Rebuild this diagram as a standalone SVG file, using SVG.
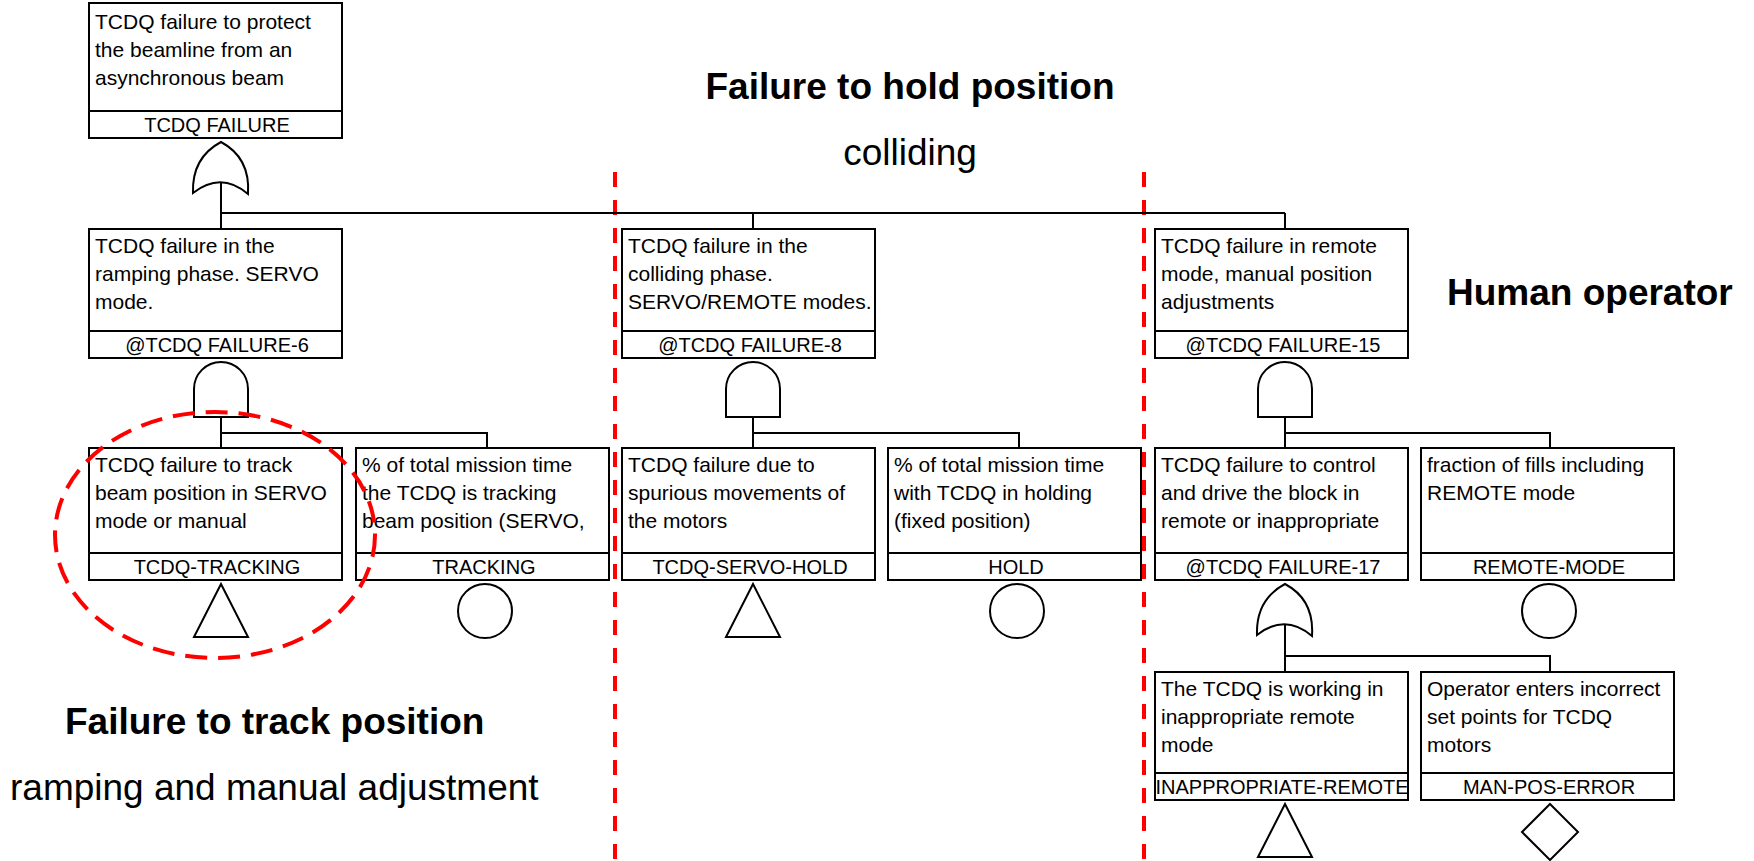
<svg xmlns="http://www.w3.org/2000/svg" width="1754" height="861" viewBox="0 0 1754 861">
<style>
text { font-family: "Liberation Sans", Arial, sans-serif; fill: #000; }
.box { fill: #fff; stroke: #000; stroke-width: 2; }
.div { stroke: #000; stroke-width: 2; }
.desc { font-size: 21px; }
.hdr { font-size: 20px; text-anchor: middle; }
.big { font-size: 37px; }
.b { font-weight: bold; }
.wire { stroke: #000; stroke-width: 2; fill: none; }
.gate { fill: #fff; stroke: #000; stroke-width: 2; }
.red { stroke: #ff0000; stroke-width: 4; fill: none; stroke-dasharray: 15 13; }
.redell { stroke: #ff0000; stroke-width: 4; fill: none; stroke-dasharray: 22 11; }
</style>
<defs>
<path id="orgate" class="gate" d="M-28,51 C-29,23 -15,8 0,0 C15,8 29,23 27,52 Q0,29 -28,51 Z"/>
<path id="andgate" class="gate" d="M-27,55 V27 A27,27 0 0 1 27,27 V55 Z"/>
<path id="tri" class="gate" d="M0,0 L27,53 L-27,53 Z"/>
<path id="dia" class="gate" d="M0,-28 L28,0 L0,28 L-28,0 Z"/>
</defs>

<g id="annotations">
<line class="red" x1="615" y1="172" x2="615" y2="861"/>
<line class="red" x1="1144" y1="172" x2="1144" y2="861"/>
<text class="big b" x="910" y="99" text-anchor="middle">Failure to hold position</text>
<text class="big" x="910" y="165" text-anchor="middle">colliding</text>
<text class="big b" x="1447" y="305">Human operator</text>
<text class="big b" x="65" y="734">Failure to track position</text>
<text class="big" x="10" y="800">ramping and manual adjustment</text>
</g>

<g id="connectors">
<path class="wire" d="M221,182 V229 M221,213 H1285 M753,213 V229 M1285,213 V229"/>
<path class="wire" d="M221,417 V448 M221,433 H487 V448"/>
<path class="wire" d="M753,417 V448 M753,433 H1019 V448"/>
<path class="wire" d="M1285,417 V448 M1285,433 H1550 V448"/>
<path class="wire" d="M1285,624 V672 M1285,656 H1550 V672"/>
</g>

<g id="tcdq-failure">
<rect class="box" x="89" y="3" width="253" height="135"/>
<line class="div" x1="89" y1="111" x2="342" y2="111"/>
<text class="desc" x="95" y="29">TCDQ failure to protect</text>
<text class="desc" x="95" y="57">the beamline from an</text>
<text class="desc" x="95" y="85">asynchronous beam</text>
<text class="hdr" x="217" y="132">TCDQ FAILURE</text>
<use href="#orgate" x="221" y="142"/>
</g>

<g id="tcdq-failure-6">
<rect class="box" x="89" y="229" width="253" height="129"/>
<line class="div" x1="89" y1="331" x2="342" y2="331"/>
<text class="desc" x="95" y="253">TCDQ failure in the</text>
<text class="desc" x="95" y="281">ramping phase. SERVO</text>
<text class="desc" x="95" y="309">mode.</text>
<text class="hdr" x="217" y="352">@TCDQ FAILURE-6</text>
<use href="#andgate" x="221" y="362"/>
</g>

<g id="tcdq-failure-8">
<rect class="box" x="622" y="229" width="253" height="129"/>
<line class="div" x1="622" y1="331" x2="875" y2="331"/>
<text class="desc" x="628" y="253">TCDQ failure in the</text>
<text class="desc" x="628" y="281">colliding phase.</text>
<text class="desc" x="628" y="309">SERVO/REMOTE modes.</text>
<text class="hdr" x="750" y="352">@TCDQ FAILURE-8</text>
<use href="#andgate" x="753" y="362"/>
</g>

<g id="tcdq-failure-15">
<rect class="box" x="1155" y="229" width="253" height="129"/>
<line class="div" x1="1155" y1="331" x2="1408" y2="331"/>
<text class="desc" x="1161" y="253">TCDQ failure in remote</text>
<text class="desc" x="1161" y="281">mode, manual position</text>
<text class="desc" x="1161" y="309">adjustments</text>
<text class="hdr" x="1283" y="352">@TCDQ FAILURE-15</text>
<use href="#andgate" x="1285" y="362"/>
</g>

<g id="tcdq-tracking">
<rect class="box" x="89" y="448" width="253" height="132"/>
<line class="div" x1="89" y1="553" x2="342" y2="553"/>
<text class="desc" x="95" y="472">TCDQ failure to track</text>
<text class="desc" x="95" y="500">beam position in SERVO</text>
<text class="desc" x="95" y="528">mode or manual</text>
<text class="hdr" x="217" y="574">TCDQ-TRACKING</text>
<use href="#tri" x="221" y="584"/>
</g>

<g id="tracking">
<rect class="box" x="356" y="448" width="253" height="132"/>
<line class="div" x1="356" y1="553" x2="609" y2="553"/>
<text class="desc" x="362" y="472">% of total mission time</text>
<text class="desc" x="362" y="500">the TCDQ is tracking</text>
<text class="desc" x="362" y="528">beam position (SERVO,</text>
<text class="hdr" x="484" y="574">TRACKING</text>
<circle class="gate" cx="485" cy="611" r="27"/>
</g>

<g id="tcdq-servo-hold">
<rect class="box" x="622" y="448" width="253" height="132"/>
<line class="div" x1="622" y1="553" x2="875" y2="553"/>
<text class="desc" x="628" y="472">TCDQ failure due to</text>
<text class="desc" x="628" y="500">spurious movements of</text>
<text class="desc" x="628" y="528">the motors</text>
<text class="hdr" x="750" y="574">TCDQ-SERVO-HOLD</text>
<use href="#tri" x="753" y="584"/>
</g>

<g id="hold">
<rect class="box" x="888" y="448" width="253" height="132"/>
<line class="div" x1="888" y1="553" x2="1141" y2="553"/>
<text class="desc" x="894" y="472">% of total mission time</text>
<text class="desc" x="894" y="500">with TCDQ in holding</text>
<text class="desc" x="894" y="528">(fixed position)</text>
<text class="hdr" x="1016" y="574">HOLD</text>
<circle class="gate" cx="1017" cy="611" r="27"/>
</g>

<g id="tcdq-failure-17">
<rect class="box" x="1155" y="448" width="253" height="132"/>
<line class="div" x1="1155" y1="553" x2="1408" y2="553"/>
<text class="desc" x="1161" y="472">TCDQ failure to control</text>
<text class="desc" x="1161" y="500">and drive the block in</text>
<text class="desc" x="1161" y="528">remote or inappropriate</text>
<text class="hdr" x="1283" y="574">@TCDQ FAILURE-17</text>
<use href="#orgate" x="1285" y="584"/>
</g>

<g id="remote-mode">
<rect class="box" x="1421" y="448" width="253" height="132"/>
<line class="div" x1="1421" y1="553" x2="1674" y2="553"/>
<text class="desc" x="1427" y="472">fraction of fills including</text>
<text class="desc" x="1427" y="500">REMOTE mode</text>
<text class="hdr" x="1549" y="574">REMOTE-MODE</text>
<circle class="gate" cx="1549" cy="611" r="27"/>
</g>

<g id="inappropriate-remote">
<rect class="box" x="1155" y="672" width="253" height="128"/>
<line class="div" x1="1155" y1="773" x2="1408" y2="773"/>
<text class="desc" x="1161" y="696">The TCDQ is working in</text>
<text class="desc" x="1161" y="724">inappropriate remote</text>
<text class="desc" x="1161" y="752">mode</text>
<text class="hdr" x="1282" y="794">INAPPROPRIATE-REMOTE</text>
<use href="#tri" x="1285" y="804"/>
</g>

<g id="man-pos-error">
<rect class="box" x="1421" y="672" width="253" height="128"/>
<line class="div" x1="1421" y1="773" x2="1674" y2="773"/>
<text class="desc" x="1427" y="696">Operator enters incorrect</text>
<text class="desc" x="1427" y="724">set points for TCDQ</text>
<text class="desc" x="1427" y="752">motors</text>
<text class="hdr" x="1549" y="794">MAN-POS-ERROR</text>
<use href="#dia" x="1550" y="832"/>
</g>

<g id="highlight">
<ellipse class="redell" cx="215" cy="535" rx="160" ry="123"/>
</g>
</svg>
